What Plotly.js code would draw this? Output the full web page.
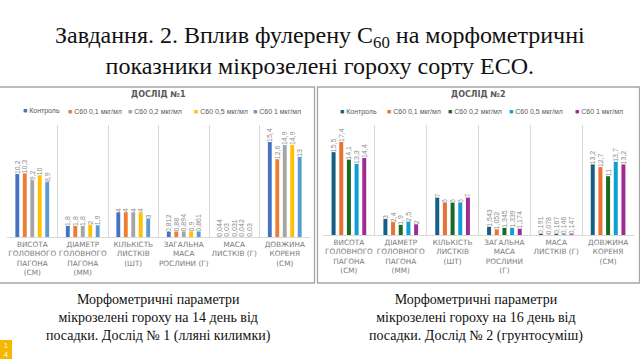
<!DOCTYPE html>
<html>
<head>
<meta charset="utf-8">
<script src="https://cdn.plot.ly/plotly-3.0.1.min.js"></script>
<style>html,body{margin:0;padding:0;background:#fff;}#chart{width:640px;height:359px;}</style>
</head>
<body>
<div id="chart"></div>
<script>
// ---- Data ----
const categories1 = ['ВИСОТА<br>ГОЛОВНОГО<br>ПАГОНА<br>(СМ)', 'ДІАМЕТР<br>ГОЛОВНОГО<br>ПАГОНА<br>(ММ)', 'КІЛЬКІСТЬ<br>ЛИСТКІВ<br>(ШТ)', 'ЗАГАЛЬНА<br>МАСА<br>РОСЛИНИ (Г)', 'МАСА<br>ЛИСТКІВ (Г)', 'ДОВЖИНА<br>КОРЕНЯ<br>(СМ)'];
const categories2 = ['ВИСОТА<br>ГОЛОВНОГО<br>ПАГОНА<br>(СМ)', 'ДІАМЕТР<br>ГОЛОВНОГО<br>ПАГОНА<br>(ММ)', 'КІЛЬКІСТЬ<br>ЛИСТКІВ<br>(ШТ)', 'ЗАГАЛЬНА<br>МАСА<br>РОСЛИНИ<br>(Г)', 'МАСА<br>ЛИСТКІВ (Г)', 'ДОВЖИНА<br>КОРЕНЯ<br>(СМ)'];
const seriesNames = ['Контроль', 'С60 0,1 мкг/мл', 'С60 0,2 мкг/мл', 'С60 0,5 мкг/мл', 'С60 1 мкг/мл'];

// Дослід №1
const control1 = [10.2, 1.8, 4, 0.812, 0.044, 15.4];
const c60_01_1 = [10.3, 1.8, 4, 0.88, 0.03, 12.6];
const c60_02_1 = [9.2, 1.8, 4, 0.894, 0.031, 14.9];
const c60_05_1 = [10, 2, 4, 0.9, 0.042, 14.9];
const c60_1_1  = [8.9, 1.9, 3, 0.861, 0.03, 13];

// Дослід №2
const control2 = [15.5, 3, 7, 1.543, 0.191, 13.2];
const c60_01_2 = [17.4, 2.4, 6, 1.052, 0.078, 12.7];
const c60_02_2 = [14.1, 1.9, 6, 1.345, 0.167, 11];
const c60_05_2 = [13.3, 2.5, 6, 1.339, 0.146, 13.7];
const c60_1_2  = [14.4, 2, 7, 1.174, 0.147, 13.2];

const colors1 = ['#4472C4', '#ED7D31', '#A5A5A5', '#FFC000', '#5B9BD5'];
const colors2 = ['#156082', '#E97132', '#196B24', '#0F9ED5', '#A02B93'];

const chartTitle1 = 'ДОСЛІД №1';
const chartTitle2 = 'ДОСЛІД №2';
const slideTitle = 'Завдання. 2. Вплив фулерену С<sub>60</sub> на морфометричні<br>показники мікрозелені гороху сорту ЕСО.';
const caption1 = 'Морфометричні параметри<br>мікрозелені гороху на 14 день від<br>посадки. Дослід № 1 (лляні килимки)';
const caption2 = 'Морфометричні параметри<br>мікрозелені гороху на 16 день від<br>посадки. Дослід № 2 (грунтосуміш)';

// ---- Build ----
const fmt = v => String(v).replace('.', ',');
const sets1 = [control1, c60_01_1, c60_02_1, c60_05_1, c60_1_1];
const sets2 = [control2, c60_01_2, c60_02_2, c60_05_2, c60_1_2];
const labelFont = {family: 'Liberation Sans, Arial, sans-serif', size: 7, color: '#8C8C8C'};

const traces = [];
sets1.forEach((vals, i) => traces.push({
  type: 'bar', x: categories1, y: vals, name: seriesNames[i],
  marker: {color: colors1[i]}, text: vals.map(fmt), textposition: 'outside',
  textangle: -90, textfont: labelFont, constraintext: 'none', cliponaxis: false,
  xaxis: 'x', yaxis: 'y', showlegend: false, hoverinfo: 'skip'
}));
sets2.forEach((vals, i) => traces.push({
  type: 'bar', x: categories2, y: vals, name: seriesNames[i],
  marker: {color: colors2[i]}, text: vals.map(fmt), textposition: 'outside',
  textangle: -90, textfont: labelFont, constraintext: 'none', cliponaxis: false,
  xaxis: 'x2', yaxis: 'y2', showlegend: false, hoverinfo: 'skip'
}));

const H = 359, W = 640;
const px = x => x / W, py = y => 1 - y / H;
const tickFont = {family: 'DejaVu Sans, sans-serif', size: 7.3, color: '#7A7A7A'};
const serif = '"Times New Roman", "Liberation Serif", Times, serif';

const xaxisCommon = {
  type: 'category', tickson: 'boundaries', showgrid: true, gridcolor: '#D9D9D9', gridwidth: 1,
  showline: true, linecolor: '#D9D9D9', ticks: '', tickfont: tickFont, tickangle: 0, fixedrange: true
};

const annotations = [];
// slide title
annotations.push({xref: 'paper', yref: 'paper', x: 0.5, y: py(50), text: slideTitle, showarrow: false, align: 'center',
  font: {family: serif, size: 24, color: '#111111'}, xanchor: 'center', yanchor: 'middle'});
// chart titles
annotations.push({xref: 'paper', yref: 'paper', x: px(158), y: py(94), text: '<b>' + chartTitle1 + '</b>', showarrow: false,
  font: {family: 'DejaVu Sans, sans-serif', size: 8, color: '#595959'}, xanchor: 'center', yanchor: 'middle'});
annotations.push({xref: 'paper', yref: 'paper', x: px(478), y: py(94), text: '<b>' + chartTitle2 + '</b>', showarrow: false,
  font: {family: 'DejaVu Sans, sans-serif', size: 8, color: '#595959'}, xanchor: 'center', yanchor: 'middle'});
// legends
const legX1 = [21, 66, 126, 192, 251];
const legX2 = [338, 385, 446, 507, 573];
seriesNames.forEach((n, i) => {
  annotations.push({xref: 'paper', yref: 'paper', x: px(legX1[i]), y: py(111), xanchor: 'left', yanchor: 'middle', showarrow: false,
    text: '<span style="color:' + colors1[i] + '">■</span> ' + n, font: {family: 'Liberation Sans, Arial, sans-serif', size: 7, color: '#595959'}});
  annotations.push({xref: 'paper', yref: 'paper', x: px(legX2[i]), y: py(112), xanchor: 'left', yanchor: 'middle', showarrow: false,
    text: '<span style="color:' + colors2[i] + '">■</span> ' + n, font: {family: 'Liberation Sans, Arial, sans-serif', size: 7, color: '#595959'}});
});
// captions
annotations.push({xref: 'paper', yref: 'paper', x: px(158), y: py(318), text: caption1, showarrow: false, align: 'center',
  font: {family: serif, size: 14, color: '#111111'}, xanchor: 'center', yanchor: 'middle'});
annotations.push({xref: 'paper', yref: 'paper', x: px(476), y: py(318), text: caption2, showarrow: false, align: 'center',
  font: {family: serif, size: 14, color: '#111111'}, xanchor: 'center', yanchor: 'middle'});
// slide number badge
annotations.push({xref: 'paper', yref: 'paper', x: px(6), y: py(350), text: '1<br>4', showarrow: false,
  font: {family: 'Liberation Sans, sans-serif', size: 7, color: '#FFFFFF'}, xanchor: 'center', yanchor: 'middle'});

const layout = {
  width: W, height: H, margin: {l: 0, r: 0, t: 0, b: 0}, paper_bgcolor: '#FFFFFF', plot_bgcolor: 'rgba(0,0,0,0)',
  barmode: 'group', bargap: 0.26, bargroupgap: 0.48, showlegend: false,
  xaxis: Object.assign({}, xaxisCommon, {domain: [px(7), px(310)], anchor: 'y'}),
  yaxis: {domain: [py(237), py(125)], range: [0, 18.15], visible: false, showgrid: false, zeroline: false, fixedrange: true},
  xaxis2: Object.assign({}, xaxisCommon, {domain: [px(323), px(634)], anchor: 'y2'}),
  yaxis2: {domain: [py(235), py(125)], range: [0, 20.58], visible: false, showgrid: false, zeroline: false, fixedrange: true},
  shapes: [
    {type: 'rect', xref: 'paper', yref: 'paper', x0: px(-1), x1: px(314.5), y0: py(283), y1: py(87), line: {color: '#A6A6A6', width: 1.3}},
    {type: 'rect', xref: 'paper', yref: 'paper', x0: px(317.5), x1: px(639.5), y0: py(283), y1: py(87), line: {color: '#A6A6A6', width: 1.3}},
    {type: 'rect', xref: 'paper', yref: 'paper', x0: 0, x1: px(12), y0: py(359), y1: py(340), fillcolor: '#F5B700', line: {width: 0}}
  ],
  annotations: annotations
};

Plotly.newPlot('chart', traces, layout, {staticPlot: true, displayModeBar: false});
</script>
</body>
</html>
